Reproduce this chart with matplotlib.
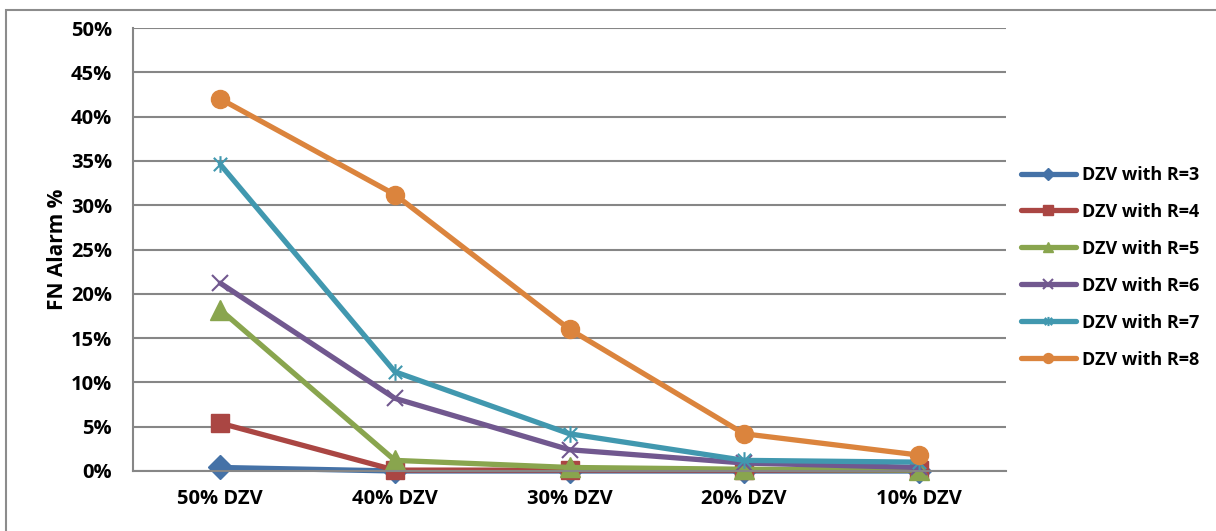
import matplotlib.pyplot as plt
from matplotlib.path import Path
from matplotlib.patches import Rectangle
from matplotlib.ticker import PercentFormatter

plt.rcParams['font.family'] = ['Open Sans', 'DejaVu Sans']

categories = ["50% DZV", "40% DZV", "30% DZV", "20% DZV", "10% DZV"]
series_names = ["DZV with R=3", "DZV with R=4", "DZV with R=5",
                "DZV with R=6", "DZV with R=7", "DZV with R=8"]
r3 = [0.4, 0.0, 0.0, 0.0, 0.0]
r4 = [5.4, 0.1, 0.1, 0.1, 0.1]
r5 = [18.2, 1.2, 0.4, 0.2, 0.1]
r6 = [21.2, 8.2, 2.4, 0.9, 0.4]
r7 = [34.6, 11.2, 4.2, 1.2, 1.0]
r8 = [42.0, 31.2, 16.0, 4.2, 1.8]

# excel-style star: an x with a vertical bar through it
star = Path([(-1, -1), (1, 1), (-1, 1), (1, -1), (0, -1.25), (0, 1.25)],
            [Path.MOVETO, Path.LINETO, Path.MOVETO, Path.LINETO,
             Path.MOVETO, Path.LINETO])

styles = [
    ("#4572A7", "D", 12),
    ("#AA4643", "s", 13),
    ("#89A54E", "^", 14),
    ("#71588F", "x", 12),
    ("#4198AF", star, 12),
    ("#DB843D", "o", 13),
]

TICK_FS = 14.5
LEG_FS = 13


def main():
    fig = plt.figure(figsize=(12.16, 5.31), dpi=100)
    ax = fig.add_axes([133 / 1216, 1 - 471 / 531, (1006 - 133) / 1216, (471 - 28) / 531])
    fig.patches.append(Rectangle((6 / 1216, -0.1), 1.2, 1 - 10 / 531 + 0.1,
                                 transform=fig.transFigure, fill=False,
                                 edgecolor="#8c8c8c", linewidth=1.5))
    plot_data(ax)
    set_properties(ax)
    fig.savefig("out.png", dpi=100)


def plot_data(ax):
    xs = range(len(categories))
    for name, vals, (color, marker, ms) in zip(series_names, [r3, r4, r5, r6, r7, r8], styles):
        ax.plot(xs, vals, color=color, linewidth=3.8, marker=marker, markersize=ms,
                markeredgewidth=1.5 if marker in ("x",) or marker is star else 1,
                markerfacecolor=color, markeredgecolor=color,
                solid_capstyle="round", label=name, clip_on=False)


def set_properties(ax):
    ax.set_xlim(-0.5, 4.5)
    ax.set_ylim(0, 50)
    ax.set_yticks(range(0, 51, 5))
    ax.yaxis.set_major_formatter(PercentFormatter(decimals=0))
    ax.set_xticks(range(len(categories)))
    ax.set_xticklabels(categories)
    ax.tick_params(axis="both", length=0, labelsize=TICK_FS)
    ax.tick_params(axis="x", pad=13)
    ax.tick_params(axis="y", pad=15)
    for lbl in ax.get_xticklabels() + ax.get_yticklabels():
        lbl.set_fontweight("bold")
    ax.grid(axis="y", color="#868686", linewidth=1.5)
    ax.set_axisbelow(True)
    for side in ("top", "right"):
        ax.spines[side].set_visible(False)
    for side in ("left", "bottom"):
        ax.spines[side].set_color("#868686")
        ax.spines[side].set_linewidth(1.5)
    ax.set_ylabel("FN Alarm %", fontsize=15, fontweight="bold", labelpad=2)
    ax.legend(loc="center left", bbox_to_anchor=(0.999, 0.46), frameon=False,
              prop={"size": LEG_FS, "weight": "bold"}, markerscale=0.55,
              handlelength=3.0, handletextpad=0.35, labelspacing=1.05)


if __name__ == "__main__":
    main()
